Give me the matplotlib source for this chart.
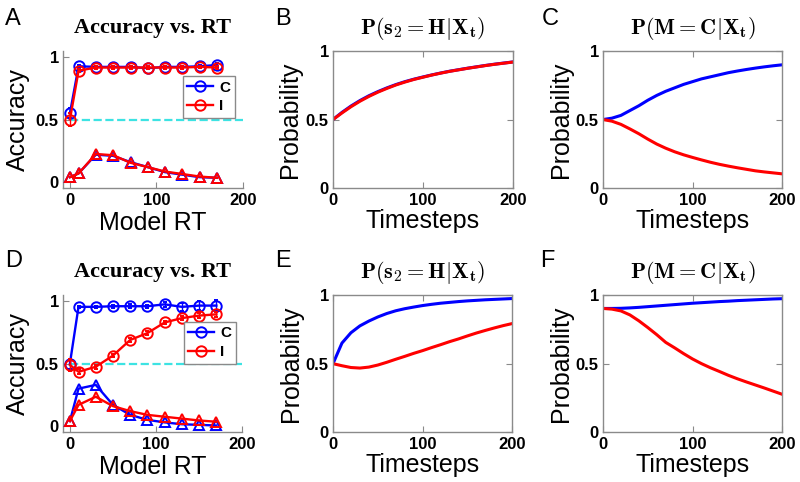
import matplotlib
matplotlib.use("Agg")
import matplotlib.pyplot as plt
from matplotlib.lines import Line2D

plt.rcParams['mathtext.fontset'] = 'cm'
plt.rcParams['font.family'] = ['Liberation Sans', 'DejaVu Sans']

# ---------------- data ----------------
rt_bins = [0, 10, 30, 50, 70, 90, 110, 130, 150, 170]

# Panel A
a_acc_c = [0.55, 0.925, 0.92, 0.92, 0.92, 0.91, 0.92, 0.92, 0.925, 0.935]
a_acc_i = [0.50, 0.89, 0.915, 0.915, 0.915, 0.915, 0.915, 0.915, 0.92, 0.915]
a_err_c = [0.04, 0.01, 0.01, 0.01, 0.01, 0.01, 0.01, 0.01, 0.01, 0.015]
a_err_i = [0.05, 0.012, 0.01, 0.01, 0.01, 0.01, 0.01, 0.01, 0.01, 0.012]
a_frac_c = [0.04, 0.07, 0.22, 0.21, 0.16, 0.12, 0.08, 0.06, 0.04, 0.035]
a_frac_i = [0.04, 0.07, 0.225, 0.215, 0.155, 0.12, 0.085, 0.065, 0.045, 0.035]

# Panel D
d_acc_c = [0.50, 0.955, 0.955, 0.96, 0.96, 0.96, 0.975, 0.955, 0.965, 0.965]
d_acc_i = [0.49, 0.435, 0.475, 0.565, 0.69, 0.745, 0.83, 0.865, 0.885, 0.895]
d_err_c = [0.04, 0.01, 0.01, 0.012, 0.015, 0.012, 0.02, 0.03, 0.035, 0.045]
d_err_i = [0.05, 0.02, 0.015, 0.015, 0.015, 0.015, 0.015, 0.015, 0.02, 0.02]
d_frac_c = [0.04, 0.30, 0.33, 0.17, 0.09, 0.05, 0.03, 0.015, 0.01, 0.005]
d_frac_i = [0.04, 0.17, 0.235, 0.16, 0.12, 0.09, 0.075, 0.06, 0.045, 0.035]

timesteps = [0, 10, 20, 30, 40, 50, 60, 70, 80, 90, 100,
             110, 120, 130, 140, 150, 160, 170, 180, 190, 200]

b_blue = [0.50, 0.552, 0.598, 0.638, 0.673, 0.703, 0.73, 0.754, 0.775, 0.793, 0.809,
          0.824, 0.838, 0.851, 0.862, 0.873, 0.883, 0.893, 0.902, 0.91, 0.918]
b_red = [0.50, 0.548, 0.593, 0.633, 0.668, 0.699, 0.726, 0.751, 0.772, 0.791, 0.807,
         0.823, 0.837, 0.85, 0.861, 0.872, 0.882, 0.892, 0.901, 0.909, 0.917]

c_blue = [0.50, 0.51, 0.53, 0.565, 0.60, 0.64, 0.675, 0.705, 0.73, 0.755, 0.775,
          0.795, 0.81, 0.825, 0.84, 0.852, 0.863, 0.873, 0.882, 0.89, 0.897]
c_red = [0.50, 0.488, 0.465, 0.432, 0.397, 0.358, 0.322, 0.292, 0.266, 0.244, 0.225,
         0.207, 0.19, 0.175, 0.162, 0.15, 0.139, 0.128, 0.12, 0.113, 0.106]

e_blue = [0.50, 0.65, 0.725, 0.775, 0.81, 0.84, 0.865, 0.885, 0.90, 0.912, 0.923,
          0.932, 0.94, 0.946, 0.952, 0.957, 0.961, 0.965, 0.968, 0.971, 0.974]
e_red = [0.50, 0.485, 0.472, 0.468, 0.475, 0.49, 0.51, 0.532, 0.553, 0.575, 0.595,
         0.617, 0.638, 0.66, 0.68, 0.702, 0.723, 0.742, 0.76, 0.777, 0.792]

f_blue = [0.902, 0.902, 0.903, 0.906, 0.91, 0.915, 0.92, 0.925, 0.93, 0.935, 0.94,
          0.944, 0.948, 0.952, 0.955, 0.959, 0.962, 0.965, 0.968, 0.971, 0.973]
f_red = [0.902, 0.897, 0.884, 0.855, 0.812, 0.763, 0.711, 0.655, 0.615, 0.573, 0.534,
         0.50, 0.47, 0.443, 0.415, 0.39, 0.367, 0.345, 0.323, 0.30, 0.277]

legend_labels = ['C', 'I']
panel_letters = ['A', 'B', 'C', 'D', 'E', 'F']

BLUE = (0, 0, 1)
RED = (1, 0, 0)
CYAN = '#3de3e3'
GRAY = '#8a8a8a'

TICK_FS = 12
LABEL_FS = 18

fig = plt.figure(figsize=(8, 4.82), dpi=100)

def style_axes(ax, box):
    for s in ax.spines.values():
        s.set_color(GRAY)
        s.set_linewidth(1.0)
    if not box:
        ax.spines['top'].set_visible(False)
        ax.spines['right'].set_visible(False)
        ax.tick_params(direction='in', length=4, color=GRAY, width=0.8)
    else:
        ax.tick_params(direction='in', length=4, color=GRAY, width=0.8,
                       top=True, right=True)
    for lab in ax.get_xticklabels() + ax.get_yticklabels():
        lab.set_fontweight('bold')
        lab.set_fontsize(TICK_FS)
    ax.tick_params(pad=3)

def acc_panel(rect, acc_c, err_c, acc_i, err_i, frac_c, frac_i, leg_anchor):
    ax = fig.add_axes(rect)
    ax.plot([0, 200], [0.5, 0.5], '--', color=CYAN, lw=1.6, zorder=1)
    ax.errorbar(rt_bins, acc_c, yerr=err_c, color=BLUE, marker='o', ms=7.5,
                mfc='none', mew=1.4, lw=1.7, capsize=1.5, elinewidth=1.0, zorder=3)
    ax.errorbar(rt_bins, acc_i, yerr=err_i, color=RED, marker='o', ms=7.5,
                mfc='none', mew=1.4, lw=1.7, capsize=1.5, elinewidth=1.0, zorder=4)
    ax.plot(rt_bins, frac_c, color=BLUE, marker='^', ms=7.5, mfc='none', mew=1.4,
            lw=1.7, zorder=3)
    ax.plot(rt_bins, frac_i, color=RED, marker='^', ms=7.5, mfc='none', mew=1.4,
            lw=1.7, zorder=4)
    ax.set_xlim(-8, 200)
    ax.set_ylim(-0.05, 1.05)
    ax.set_xticks([0, 100, 200])
    ax.set_yticks([0, 0.5, 1])
    ax.set_yticklabels(['0', '0.5', '1'])
    handles = [Line2D([], [], color=BLUE, marker='o', ms=7.5, mfc='none', mew=1.4, lw=1.7),
               Line2D([], [], color=RED, marker='o', ms=7.5, mfc='none', mew=1.4, lw=1.7)]
    leg = ax.legend(handles, legend_labels, loc='upper right',
                    bbox_to_anchor=leg_anchor, fancybox=False, framealpha=1,
                    edgecolor=GRAY, handlelength=1.7, handletextpad=0.4,
                    borderpad=0.3, borderaxespad=0, labelspacing=0.3,
                    prop={'weight': 'bold', 'size': 11})
    leg.get_frame().set_linewidth(1.0)
    ax.set_title('Accuracy vs. RT', fontfamily='Liberation Serif',
                 fontweight='bold', fontsize=16, pad=13)
    ax.set_xlabel('Model RT', fontsize=LABEL_FS)
    ax.set_ylabel('Accuracy', fontsize=LABEL_FS)
    ax.xaxis.set_label_coords(0.5, -0.165)
    ax.yaxis.set_label_coords(-0.185, 0.5)
    style_axes(ax, box=False)
    return ax

def prob_panel(rect, blue, red, title):
    ax = fig.add_axes(rect)
    ax.plot(timesteps, blue, color=BLUE, lw=2.2)
    ax.plot(timesteps, red, color=RED, lw=2.2)
    ax.set_xlim(0, 200)
    ax.set_ylim(0, 1)
    ax.set_xticks([0, 100, 200])
    ax.set_yticks([0, 0.5, 1])
    ax.set_yticklabels(['0', '0.5', '1'])
    ax.set_title(title, fontsize=16, pad=12)
    ax.set_xlabel('Timesteps', fontsize=LABEL_FS)
    ax.set_ylabel('Probability', fontsize=LABEL_FS)
    ax.xaxis.set_label_coords(0.5, -0.15)
    ax.yaxis.set_label_coords(-0.17, 0.5)
    style_axes(ax, box=True)
    return ax

title_s = r'$\mathbf{P(s_2=H|X_t)}$'
title_m = r'$\mathbf{P(M=C|X_t)}$'

acc_panel([0.07875, 0.609, 0.225, 0.286], a_acc_c, a_err_c, a_acc_i, a_err_i,
          a_frac_c, a_frac_i, (0.955, 0.815))
prob_panel([0.41625, 0.609, 0.225, 0.286], b_blue, b_red, title_s)
prob_panel([0.75375, 0.609, 0.224, 0.286], c_blue, c_red, title_m)
acc_panel([0.07875, 0.103, 0.224, 0.285], d_acc_c, d_err_c, d_acc_i, d_err_i,
          d_frac_c, d_frac_i, (0.965, 0.805))
prob_panel([0.41625, 0.103, 0.224, 0.285], e_blue, e_red, title_s)
prob_panel([0.75375, 0.103, 0.224, 0.285], f_blue, f_red, title_m)

letter_pos = [(5, 25), (275, 25), (542, 25), (5, 267), (275, 267), (540, 267)]
for letter, (px, py) in zip(panel_letters, letter_pos):
    fig.text(px / 800, 1 - py / 482, letter, fontsize=17, ha='left', va='baseline')

fig.savefig('out.png', dpi=100)
